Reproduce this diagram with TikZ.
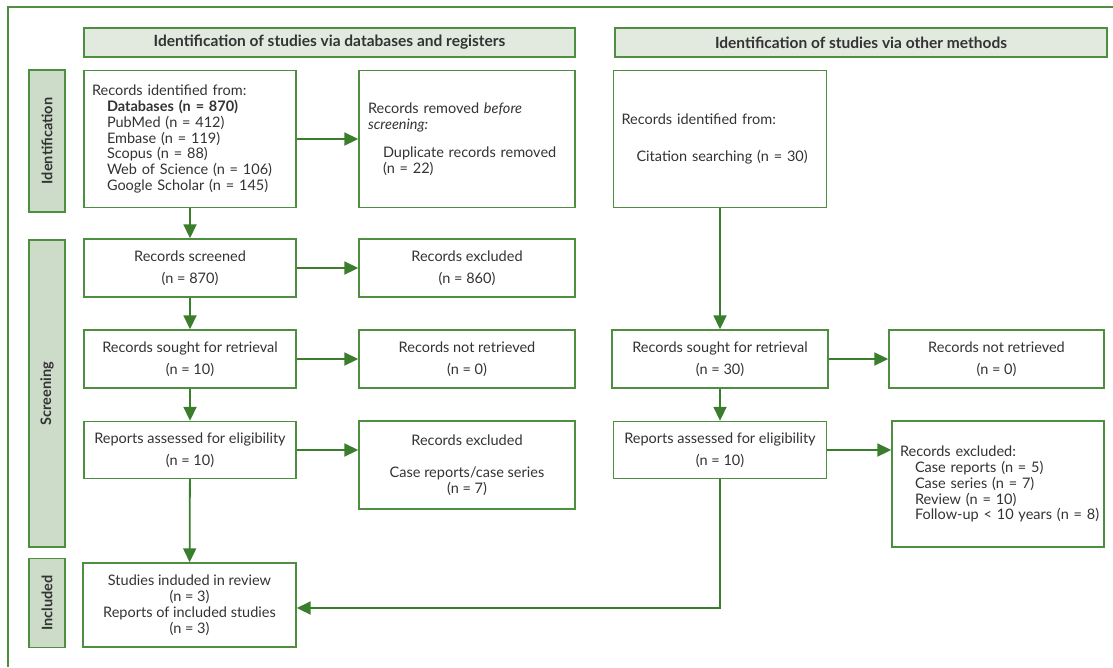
\documentclass[tikz,border=0pt]{standalone}
\usepackage{fontspec}
\setmainfont{Lato}
\usetikzlibrary{arrows.meta}
\definecolor{bc}{HTML}{4E8E41}
\definecolor{ac}{HTML}{3A7D2C}
\definecolor{hf}{HTML}{E2EADF}
\definecolor{sf}{HTML}{CCDCC8}
\definecolor{tc}{HTML}{333333}
\begin{document}
\begin{tikzpicture}[x=1pt,y=-1pt,
  box/.style={draw=bc, line width=1.4pt, fill=white, text=tc, inner sep=0pt,
    font=\fontsize{14.5}{15.9}\selectfont, align=center},
  lbox/.style={box, align=left},
  head/.style={draw=bc, line width=1.4pt, fill=hf, text=tc, inner sep=0pt,
    font=\fontsize{15.5}{16}\selectfont\bfseries, minimum height=29pt},
  side/.style={draw=bc, line width=1.4pt, fill=sf, text=tc, inner sep=0pt,
    font=\fontsize{14.5}{16}\selectfont\bfseries, rotate=90, minimum height=36pt},
  arr/.style={draw=ac, line width=1.8pt, -{Triangle[length=14pt,width=13pt]}}
]
\useasboundingbox (0,0) rectangle (1113,667);
\draw[bc, line width=1.2pt] (8,667) -- (8,7) -- (1113,7);

\node[head, minimum width=491pt] (h1) at (329.5,42.5) {Identification of studies via databases and registers};
\node[head, minimum width=492pt] (h2) at (861,42.5) {Identification of studies via other methods};

\node[side, minimum width=142pt] (s1) at (47,141) {Identification};
\node[side, minimum width=307pt] (s2) at (47,393.5) {Screening};
\node[side, minimum width=89pt] (s3) at (47,603) {Included};

\node[lbox, minimum width=212pt, minimum height=137pt, text width=196pt] (a) at (190,139)
 {Records identified from:\\
  \hspace*{15pt}\textbf{Databases (n = 870)}\\
  \hspace*{15pt}PubMed (n = 412)\\
  \hspace*{15pt}Embase (n = 119)\\
  \hspace*{15pt}Scopus (n = 88)\\
  \hspace*{15pt}Web of Science (n = 106)\\
  \hspace*{15pt}Google Scholar (n = 145)};
\node[lbox, minimum width=216pt, minimum height=137pt, text width=198pt] (b) at (467,139)
 {Records removed \textit{before}\\
  \textit{screening:}\\[12pt]
  \hspace*{15pt}Duplicate records removed\\
  \hspace*{15pt}(n = 22)};
\node[lbox, minimum width=213pt, minimum height=137pt, text width=197pt] (c) at (720,139)
 {Records identified from:\\[21pt]
  \hspace*{15pt}Citation searching (n = 30)};

\node[box, minimum width=212pt, minimum height=58pt] (scr) at (190,268) {Records screened\\[6pt](n = 870)};
\node[box, minimum width=216pt, minimum height=58pt] (exa) at (467,268) {Records excluded\\[6pt](n = 860)};
\node[box, minimum width=212pt, minimum height=58pt] (sl) at (190,359) {Records sought for retrieval\\[6pt](n = 10)};
\node[box, minimum width=216pt, minimum height=58pt] (nl) at (467,359) {Records not retrieved\\[6pt](n = 0)};
\node[box, minimum width=212pt, minimum height=57pt] (rl) at (190,450) {Reports assessed for eligibility\\[6pt](n = 10)};
\node[box, minimum width=216pt, minimum height=88pt] (el) at (467,465) {Records excluded\\[16pt]Case reports/case series\\(n = 7)};

\node[box, minimum width=216pt, minimum height=58pt] (sr) at (720,359) {Records sought for retrieval\\[6pt](n = 30)};
\node[box, minimum width=215pt, minimum height=58pt] (nr) at (996.5,359) {Records not retrieved\\[6pt](n = 0)};
\node[box, minimum width=213pt, minimum height=57pt] (rr) at (720,450) {Reports assessed for eligibility\\[6pt](n = 10)};
\node[lbox, minimum width=212pt, minimum height=126pt, text width=196pt] (er) at (998,484)
 {Records excluded:\\
  \hspace*{15pt}Case reports (n = 5)\\
  \hspace*{15pt}Case series (n = 7)\\
  \hspace*{15pt}Review (n = 10)\\
  \hspace*{15pt}\mbox{Follow-up < 10 years (n = 8)}};

\node[box, minimum width=213pt, minimum height=84pt] (inc) at (189.5,605)
 {Studies induded in review\\(n = 3)\\Reports of included studies\\(n = 3)};

\draw[arr] (a) -- (b);
\draw[arr] (a) -- (scr);
\draw[arr] (scr) -- (exa);
\draw[arr] (scr) -- (sl);
\draw[arr] (sl) -- (nl);
\draw[arr] (sl) -- (rl);
\draw[arr] (rl) -- (el.west |- rl);
\draw[arr] (rl) -- (inc);
\draw[arr] (c) -- (sr);
\draw[arr] (sr) -- (nr);
\draw[arr] (sr) -- (rr);
\draw[arr] (rr) -- (er.west |- rr);
\draw[arr] (rr.south) |- ([yshift=-3pt]inc.east);
\end{tikzpicture}
\end{document}
